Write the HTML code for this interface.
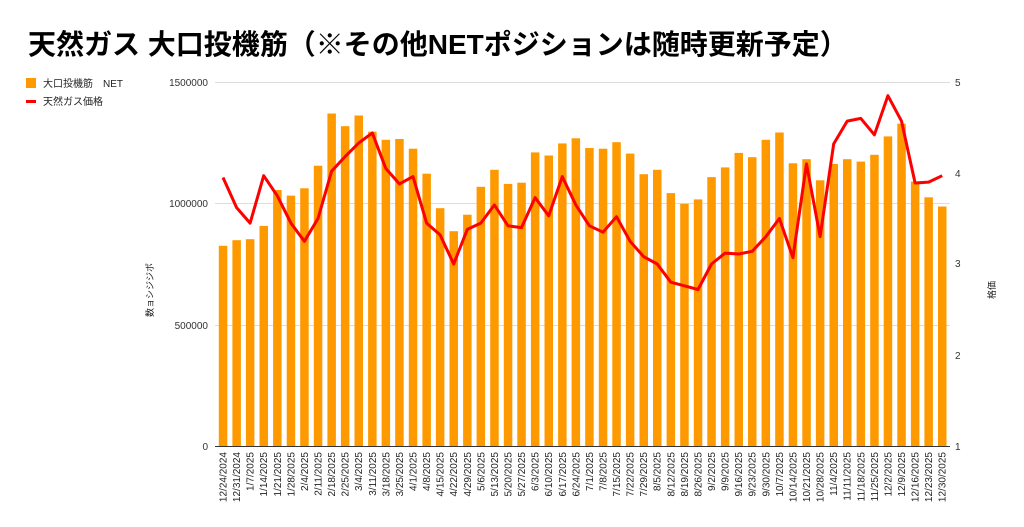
<!DOCTYPE html>
<html><head><meta charset="utf-8"><style>
body{margin:0;background:#fff;}
svg{display:block;font-family:"Liberation Sans","Noto Sans CJK JP",sans-serif;}
</style></head><body>
<svg width="1024" height="527" viewBox="0 0 1024 527">
<text x="28" y="54" font-size="28" font-weight="bold" fill="#000">天然ガス 大口投機筋（※その他NETポジションは随時更新予定）</text>
<rect x="26" y="78" width="10" height="10" fill="#ff9900"/>
<text x="43" y="87" font-size="10" fill="#222">大口投機筋　NET</text>
<rect x="26" y="100" width="10" height="3" fill="#f00"/>
<text x="43" y="105" font-size="10" fill="#222">天然ガス価格</text>
<g stroke="#ddd" stroke-width="1">
<line x1="215" y1="82.5" x2="950" y2="82.5"/>
<line x1="215" y1="203.5" x2="950" y2="203.5"/>
<line x1="215" y1="325.5" x2="950" y2="325.5"/>
</g>
<g font-size="10" fill="#333" text-anchor="end">
<text x="208" y="86">1500000</text>
<text x="208" y="207">1000000</text>
<text x="208" y="329">500000</text>
<text x="208" y="450">0</text>
</g>
<g font-size="10" fill="#333">
<text x="955" y="86">5</text>
<text x="955" y="177">4</text>
<text x="955" y="267">3</text>
<text x="955" y="359">2</text>
<text x="955" y="450">1</text>
</g>
<text transform="translate(153,290) rotate(-90)" font-size="9" fill="#222" text-anchor="middle">数ョシジジポ</text>
<text transform="translate(995,290) rotate(-90)" font-size="9" fill="#222" text-anchor="middle">格価</text>
<g fill="#ff9900">
<rect x="218.8" y="245.8" width="8.5" height="200.2"/>
<rect x="232.4" y="240.2" width="8.5" height="205.8"/>
<rect x="245.9" y="239.2" width="8.5" height="206.8"/>
<rect x="259.5" y="225.9" width="8.5" height="220.1"/>
<rect x="273.1" y="190.0" width="8.5" height="256.0"/>
<rect x="286.7" y="195.6" width="8.5" height="250.4"/>
<rect x="300.2" y="188.3" width="8.5" height="257.7"/>
<rect x="313.8" y="165.7" width="8.5" height="280.3"/>
<rect x="327.4" y="113.5" width="8.5" height="332.5"/>
<rect x="340.9" y="126.2" width="8.5" height="319.8"/>
<rect x="354.5" y="115.5" width="8.5" height="330.5"/>
<rect x="368.1" y="131.7" width="8.5" height="314.3"/>
<rect x="381.6" y="139.8" width="8.5" height="306.2"/>
<rect x="395.2" y="139.0" width="8.5" height="307.0"/>
<rect x="408.8" y="148.7" width="8.5" height="297.3"/>
<rect x="422.4" y="173.7" width="8.5" height="272.3"/>
<rect x="435.9" y="208.2" width="8.5" height="237.8"/>
<rect x="449.5" y="231.2" width="8.5" height="214.8"/>
<rect x="463.1" y="214.7" width="8.5" height="231.3"/>
<rect x="476.6" y="186.8" width="8.5" height="259.2"/>
<rect x="490.2" y="169.8" width="8.5" height="276.2"/>
<rect x="503.8" y="183.9" width="8.5" height="262.1"/>
<rect x="517.3" y="182.7" width="8.5" height="263.3"/>
<rect x="530.9" y="152.4" width="8.5" height="293.6"/>
<rect x="544.5" y="155.5" width="8.5" height="290.5"/>
<rect x="558.1" y="143.4" width="8.5" height="302.6"/>
<rect x="571.6" y="138.3" width="8.5" height="307.7"/>
<rect x="585.2" y="148.0" width="8.5" height="298.0"/>
<rect x="598.8" y="148.7" width="8.5" height="297.3"/>
<rect x="612.3" y="142.2" width="8.5" height="303.8"/>
<rect x="625.9" y="153.6" width="8.5" height="292.4"/>
<rect x="639.5" y="174.2" width="8.5" height="271.8"/>
<rect x="653.0" y="169.8" width="8.5" height="276.2"/>
<rect x="666.6" y="193.1" width="8.5" height="252.9"/>
<rect x="680.2" y="203.8" width="8.5" height="242.2"/>
<rect x="693.8" y="199.4" width="8.5" height="246.6"/>
<rect x="707.3" y="177.1" width="8.5" height="268.9"/>
<rect x="720.9" y="167.4" width="8.5" height="278.6"/>
<rect x="734.5" y="152.9" width="8.5" height="293.1"/>
<rect x="748.0" y="157.2" width="8.5" height="288.8"/>
<rect x="761.6" y="139.8" width="8.5" height="306.2"/>
<rect x="775.2" y="132.5" width="8.5" height="313.5"/>
<rect x="788.7" y="163.3" width="8.5" height="282.7"/>
<rect x="802.3" y="159.2" width="8.5" height="286.8"/>
<rect x="815.9" y="180.3" width="8.5" height="265.7"/>
<rect x="829.5" y="164.0" width="8.5" height="282.0"/>
<rect x="843.0" y="159.2" width="8.5" height="286.8"/>
<rect x="856.6" y="161.6" width="8.5" height="284.4"/>
<rect x="870.2" y="154.8" width="8.5" height="291.2"/>
<rect x="883.7" y="136.4" width="8.5" height="309.6"/>
<rect x="897.3" y="123.7" width="8.5" height="322.3"/>
<rect x="910.9" y="181.5" width="8.5" height="264.5"/>
<rect x="924.4" y="197.3" width="8.5" height="248.7"/>
<rect x="938.0" y="206.5" width="8.5" height="239.5"/>
</g>
<line x1="215" y1="446.5" x2="950" y2="446.5" stroke="#333" stroke-width="1"/>
<polyline fill="none" stroke="#f00" stroke-width="3" stroke-linejoin="round" points="223.0,177.5 236.6,207.6 250.1,223.1 263.7,175.7 277.3,195.8 290.9,223.1 304.4,241.3 318.0,218.5 331.6,171.2 345.1,156.6 358.7,143.0 372.3,132.9 385.8,168.5 399.4,183.9 413.0,176.6 426.6,223.1 440.1,234.9 453.7,264.0 467.3,229.4 480.8,223.1 494.4,204.9 508.0,225.8 521.5,227.6 535.1,197.6 548.7,215.8 562.3,176.6 575.8,204.9 589.4,225.8 603.0,232.2 616.5,216.7 630.1,241.3 643.7,256.7 657.2,264.0 670.8,282.2 684.4,285.8 698.0,289.5 711.5,264.0 725.1,253.1 738.7,254.0 752.2,251.3 765.8,236.7 779.4,218.5 792.9,257.6 806.5,163.9 820.1,236.7 833.7,143.9 847.2,121.1 860.8,118.4 874.4,134.8 887.9,95.7 901.5,121.1 915.1,183.0 928.6,182.1 942.2,175.7"/>
<g font-size="10" fill="#222" text-anchor="end">
<text transform="translate(226.5,452) rotate(-90)">12/24/2024</text>
<text transform="translate(240.1,452) rotate(-90)">12/31/2024</text>
<text transform="translate(253.6,452) rotate(-90)">1/7/2025</text>
<text transform="translate(267.2,452) rotate(-90)">1/14/2025</text>
<text transform="translate(280.8,452) rotate(-90)">1/21/2025</text>
<text transform="translate(294.4,452) rotate(-90)">1/28/2025</text>
<text transform="translate(307.9,452) rotate(-90)">2/4/2025</text>
<text transform="translate(321.5,452) rotate(-90)">2/11/2025</text>
<text transform="translate(335.1,452) rotate(-90)">2/18/2025</text>
<text transform="translate(348.6,452) rotate(-90)">2/25/2025</text>
<text transform="translate(362.2,452) rotate(-90)">3/4/2025</text>
<text transform="translate(375.8,452) rotate(-90)">3/11/2025</text>
<text transform="translate(389.3,452) rotate(-90)">3/18/2025</text>
<text transform="translate(402.9,452) rotate(-90)">3/25/2025</text>
<text transform="translate(416.5,452) rotate(-90)">4/1/2025</text>
<text transform="translate(430.1,452) rotate(-90)">4/8/2025</text>
<text transform="translate(443.6,452) rotate(-90)">4/15/2025</text>
<text transform="translate(457.2,452) rotate(-90)">4/22/2025</text>
<text transform="translate(470.8,452) rotate(-90)">4/29/2025</text>
<text transform="translate(484.3,452) rotate(-90)">5/6/2025</text>
<text transform="translate(497.9,452) rotate(-90)">5/13/2025</text>
<text transform="translate(511.5,452) rotate(-90)">5/20/2025</text>
<text transform="translate(525.0,452) rotate(-90)">5/27/2025</text>
<text transform="translate(538.6,452) rotate(-90)">6/3/2025</text>
<text transform="translate(552.2,452) rotate(-90)">6/10/2025</text>
<text transform="translate(565.8,452) rotate(-90)">6/17/2025</text>
<text transform="translate(579.3,452) rotate(-90)">6/24/2025</text>
<text transform="translate(592.9,452) rotate(-90)">7/1/2025</text>
<text transform="translate(606.5,452) rotate(-90)">7/8/2025</text>
<text transform="translate(620.0,452) rotate(-90)">7/15/2025</text>
<text transform="translate(633.6,452) rotate(-90)">7/22/2025</text>
<text transform="translate(647.2,452) rotate(-90)">7/29/2025</text>
<text transform="translate(660.7,452) rotate(-90)">8/5/2025</text>
<text transform="translate(674.3,452) rotate(-90)">8/12/2025</text>
<text transform="translate(687.9,452) rotate(-90)">8/19/2025</text>
<text transform="translate(701.5,452) rotate(-90)">8/26/2025</text>
<text transform="translate(715.0,452) rotate(-90)">9/2/2025</text>
<text transform="translate(728.6,452) rotate(-90)">9/9/2025</text>
<text transform="translate(742.2,452) rotate(-90)">9/16/2025</text>
<text transform="translate(755.7,452) rotate(-90)">9/23/2025</text>
<text transform="translate(769.3,452) rotate(-90)">9/30/2025</text>
<text transform="translate(782.9,452) rotate(-90)">10/7/2025</text>
<text transform="translate(796.4,452) rotate(-90)">10/14/2025</text>
<text transform="translate(810.0,452) rotate(-90)">10/21/2025</text>
<text transform="translate(823.6,452) rotate(-90)">10/28/2025</text>
<text transform="translate(837.2,452) rotate(-90)">11/4/2025</text>
<text transform="translate(850.7,452) rotate(-90)">11/11/2025</text>
<text transform="translate(864.3,452) rotate(-90)">11/18/2025</text>
<text transform="translate(877.9,452) rotate(-90)">11/25/2025</text>
<text transform="translate(891.4,452) rotate(-90)">12/2/2025</text>
<text transform="translate(905.0,452) rotate(-90)">12/9/2025</text>
<text transform="translate(918.6,452) rotate(-90)">12/16/2025</text>
<text transform="translate(932.1,452) rotate(-90)">12/23/2025</text>
<text transform="translate(945.7,452) rotate(-90)">12/30/2025</text>
</g>
</svg>
</body></html>
